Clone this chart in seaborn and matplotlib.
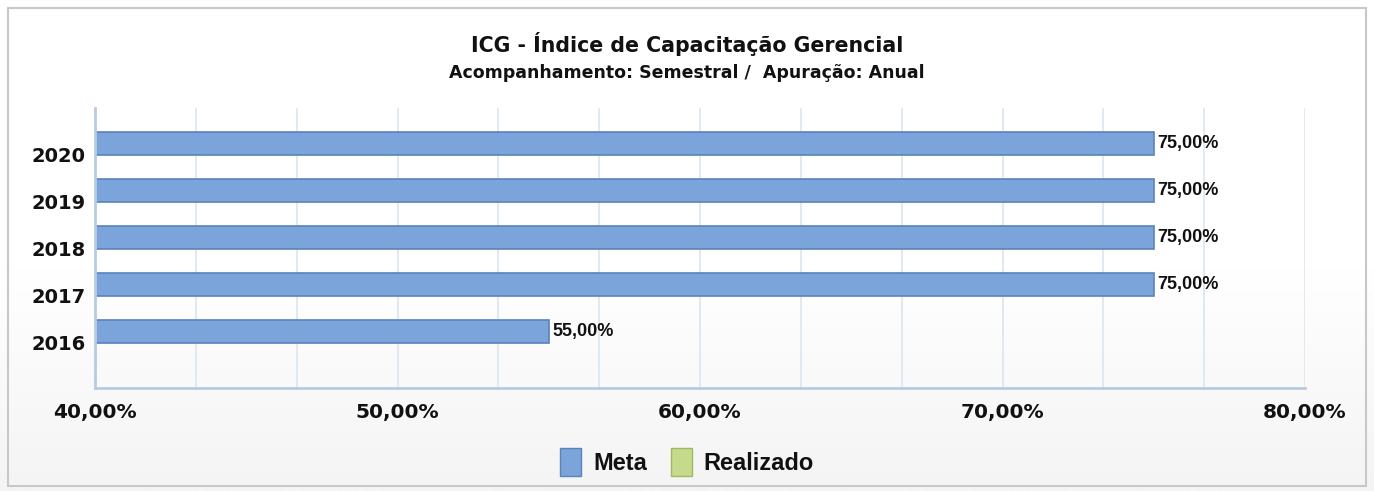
import numpy as np
import pandas as pd
import matplotlib
matplotlib.use("Agg")
import matplotlib.pyplot as plt
import seaborn as sns
from matplotlib.patches import Rectangle, Patch
from matplotlib.colors import LinearSegmentedColormap

# ---- data ----
years = ["2020", "2019", "2018", "2017", "2016"]
meta = [75.0, 75.0, 75.0, 75.0, 55.0]
realizado = [np.nan, np.nan, np.nan, np.nan, np.nan]
series = ["Meta", "Realizado"]
x_ticks = [40, 50, 60, 70, 80]
x_tick_labels = ["40,00%", "50,00%", "60,00%", "70,00%", "80,00%"]
title = "ICG - Índice de Capacitação Gerencial"
subtitle = "Acompanhamento: Semestral /  Apuração: Anual"

df = pd.DataFrame({
    "Ano": years * 2,
    "Valor": meta + realizado,
    "Série": [series[0]] * len(years) + [series[1]] * len(years),
})

sns.set_theme(style="white")
plt.rcParams["font.family"] = ["DejaVu Sans"]

blue = "#7ba4da"
blue_edge = "#5b82bb"
green = "#c6da8c"
green_edge = "#9fb862"
narrow = ["Liberation Sans Narrow", "Liberation Sans", "DejaVu Sans"]

fig = plt.figure(figsize=(13.74, 4.91), dpi=100)
fig.patch.set_facecolor("white")

# background gradient + border
bg = fig.add_axes([0, 0, 1, 1], zorder=-10)
grad = np.linspace(0, 1, 256).reshape(-1, 1)
grad = np.clip((grad - 0.55) / 0.45, 0, 1)
cmap = LinearSegmentedColormap.from_list("bg", ["#ffffff", "#f4f4f4"])
bg.imshow(grad, aspect="auto", cmap=cmap, extent=[0, 1, 0, 1], origin="upper")
bg.add_patch(Rectangle((8 / 1374, 5 / 491), 1358 / 1374, 478 / 491,
                       fill=False, edgecolor="#c8c8c8", lw=1.5, transform=bg.transAxes))
bg.set_xlim(0, 1); bg.set_ylim(0, 1)
bg.axis("off")

ax = fig.add_axes([95 / 1374, 1 - 388 / 491, 1210 / 1374, 280 / 491])
ax.set_facecolor("none")

sns.barplot(data=df, y="Ano", x="Valor", hue="Série", hue_order=series,
            palette=[blue, green], order=years, orient="h", width=0.96,
            ax=ax, legend=False, saturation=1, edgecolor=blue_edge, linewidth=1.2,
            errorbar=None)

ax.set_xlim(40, 80)
ax.set_ylim(4.97, -1.0)

ax.set_xticks(np.linspace(40, 80, 13), minor=True)
ax.set_xticks(x_ticks)
ax.set_xticklabels(x_tick_labels, fontsize=14.5, fontweight="bold", color="#111111")
ax.grid(True, axis="x", which="both", color="#dbe5f0", lw=1.2)
ax.set_axisbelow(True)
ax.tick_params(axis="x", which="both", length=0, pad=11)
ax.tick_params(axis="y", length=0, pad=7)
for lbl in ax.get_yticklabels():
    lbl.set_fontsize(14)
    lbl.set_fontweight("bold")
    lbl.set_color("#111111")
ax.set_xlabel("")
ax.set_ylabel("")

for s in ["top", "right"]:
    ax.spines[s].set_visible(False)
for s in ["left", "bottom"]:
    ax.spines[s].set_color("#b9cbe0")
    ax.spines[s].set_linewidth(2)

# data labels on Meta bars
for i, v in enumerate(meta):
    ax.text(v + 0.12, i - 0.24, f"{v:.2f}".replace(".", ",") + "%",
            va="center", ha="left", fontsize=13, fontweight="bold",
            color="#111111", family=narrow)

fig.text(0.5, 1 - 44 / 491, title, ha="center", va="center",
         fontsize=14.8, fontweight="bold", color="#111111")
fig.text(0.5, 1 - 73 / 491, subtitle, ha="center", va="center",
         fontsize=12.5, fontweight="bold", color="#111111")

handles = [Patch(facecolor=blue, edgecolor=blue_edge, label=series[0]),
           Patch(facecolor=green, edgecolor=green_edge, label=series[1])]
leg = fig.legend(handles=handles, loc="center", bbox_to_anchor=(0.5, 1 - 462 / 491),
                 ncol=2, frameon=False, handlelength=0.9, handleheight=1.4,
                 handletextpad=0.5, columnspacing=1.0, labelcolor="#111111",
                 prop={"family": narrow, "weight": "bold", "size": 17})

fig.savefig("out.png", dpi=100)
